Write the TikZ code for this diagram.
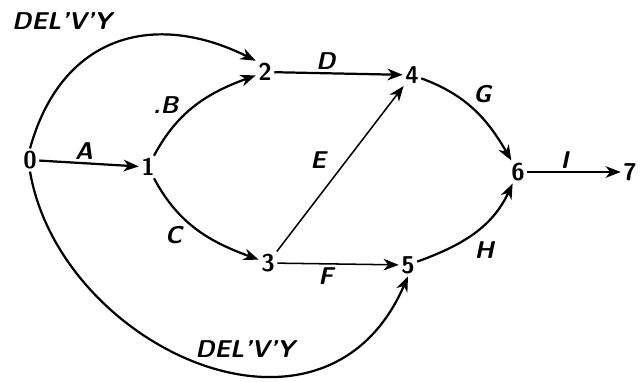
\documentclass[tikz,border=0pt]{standalone}
\usepackage{tikz}
\usetikzlibrary{arrows.meta, positioning}

\begin{document}
\begin{tikzpicture}[
    x=0.03cm, y=-0.03cm,
    event/.style={font=\sffamily\bfseries\huge, inner sep=2pt},
    act/.style={font=\sffamily\bfseries\itshape\huge, inner sep=2pt},
    arrow/.style={-{Stealth[length=13pt, width=10pt, inset=4pt]}, line width=1.9pt},
    thin arrow/.style={-{Stealth[length=13pt, width=10pt, inset=4pt]}, line width=1.3pt}
]
\useasboundingbox (0,0) rectangle (641,381);

% Nodes
\node[event] (n0) at (30,160) {0};
\node[event] (n1) at (148,167) {1};
\node[event] (n2) at (265,72) {2};
\node[event] (n3) at (268,263) {3};
\node[event] (n4) at (412,75) {4};
\node[event] (n5) at (408,265) {5};
\node[event] (n6) at (518,172) {6};
\node[event] (n7) at (630,172) {7};

% Labels of the dummy arcs
\node[act] (dtop) at (62,21) {DEL'V'Y};
\node[act] (dbot) at (245,349) {DEL'V'Y};

% Arrows
\draw[arrow] (n0) -- node[act, pos=0.45, above] {A} (n1);
\draw[arrow] (n1) to[out=62, in=200] node[act, pos=0.35, above left] {.B} (n2);
\draw[arrow] (n1) to[out=-62, in=160] node[act, pos=0.4, below left=2pt] {C} (n3);
\draw[arrow] (n2) -- node[act, pos=0.4, above] {D} (n4);
\draw[thin arrow] (n3) -- node[act, pos=0.55, left=15pt] {E} (n4);
\draw[thin arrow] (n3) -- node[act, pos=0.4, below=1pt] {F} (n5);
\draw[arrow] (n4) to[out=-20, in=120] node[act, pos=0.45, above right] {G} (n6);
\draw[arrow] (n5) to[out=20, in=245] node[act, pos=0.45, below right=2pt] {H} (n6);
\draw[thin arrow] (n6) -- node[act, pos=0.4, above] {I} (n7);
\draw[arrow] (n0.north) .. controls +(32,-115) and +(-100,-50) .. (n2.north west);
\draw[arrow] (n0.south) .. controls +(30,175) and +(-84,194) .. (n5.south);

\end{tikzpicture}
\end{document}
